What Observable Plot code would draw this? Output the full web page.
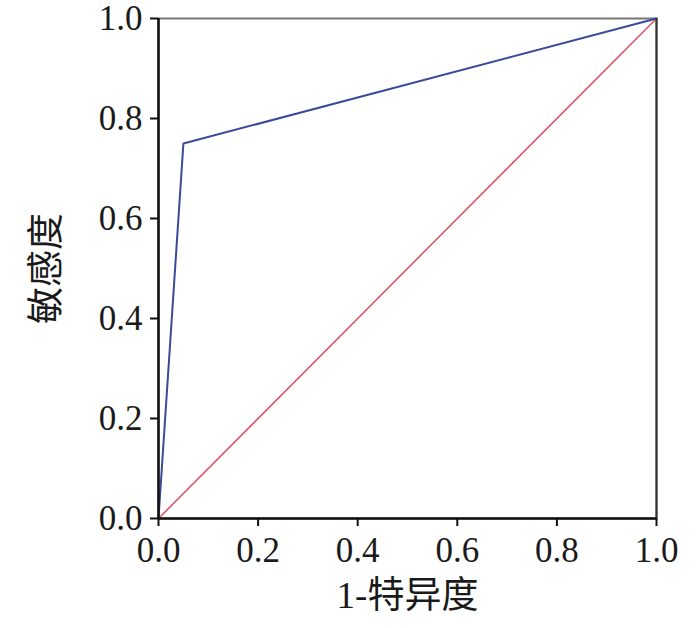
<!DOCTYPE html>
<html><head><meta charset="utf-8">
<script src="https://cdn.jsdelivr.net/npm/d3@7"></script>
<script src="https://cdn.jsdelivr.net/npm/@observablehq/plot@0.6"></script>
<style>body{margin:0;background:#fff;} svg{display:block;}</style>
</head><body><div id="chart"></div>
<script>
const rocFpr = [0, 0.05, 1];
const rocTpr = [0, 0.75, 1];
const refX = [0, 1];
const refY = [0, 1];
const tickValues = [0, 0.2, 0.4, 0.6, 0.8, 1.0];
const xLabel = "1-特异度";
const yLabel = "敏感度";

const roc = rocFpr.map((x, i) => ({x, y: rocTpr[i]}));
const ref = refX.map((x, i) => ({x, y: refY[i]}));
const font = "'Liberation Serif', 'Noto Sans CJK SC', serif";

const plot = Plot.plot({
  width: 697, height: 628,
  marginLeft: 158, marginRight: 41, marginTop: 18, marginBottom: 110,
  style: {fontFamily: font, fontSize: "35px", color: "#1a1a1a", background: "#fff"},
  x: {domain: [0, 1], ticks: tickValues, tickFormat: d3.format(".1f"), label: null},
  y: {domain: [0, 1], ticks: tickValues, tickFormat: d3.format(".1f"), label: null},
  marks: [
    Plot.frame({stroke: "#777", strokeWidth: 2}),
    Plot.line(ref, {x: "x", y: "y", stroke: "#dc4f62", strokeWidth: 1.5}),
    Plot.line(roc, {x: "x", y: "y", stroke: "#3a4a9a", strokeWidth: 2}),
    Plot.ruleX([0], {stroke: "#111", strokeWidth: 2.5}),
    Plot.ruleY([0], {stroke: "#111", strokeWidth: 2.5}),
    Plot.ruleX([1], {stroke: "#333", strokeWidth: 2}),
    Plot.axisX({ticks: tickValues, tickFormat: d3.format(".1f"), tickSize: 8, tickPadding: 11, stroke: "#111", strokeWidth: 2, label: null}),
    Plot.axisY({ticks: tickValues, tickFormat: d3.format(".1f"), tickSize: 8, tickPadding: 8, stroke: "#111", strokeWidth: 2, label: null}),
    Plot.text([xLabel], {frameAnchor: "bottom", lineAnchor: "middle", dy: 78, fontFamily: font, fontSize: 37, fill: "#1a1a1a"}),
    Plot.text([yLabel], {frameAnchor: "left", textAnchor: "middle", lineAnchor: "middle", dx: -111, rotate: -90, fontFamily: font, fontSize: 37, fill: "#1a1a1a"})
  ]
});
document.getElementById("chart").appendChild(plot);
</script>
</body></html>
